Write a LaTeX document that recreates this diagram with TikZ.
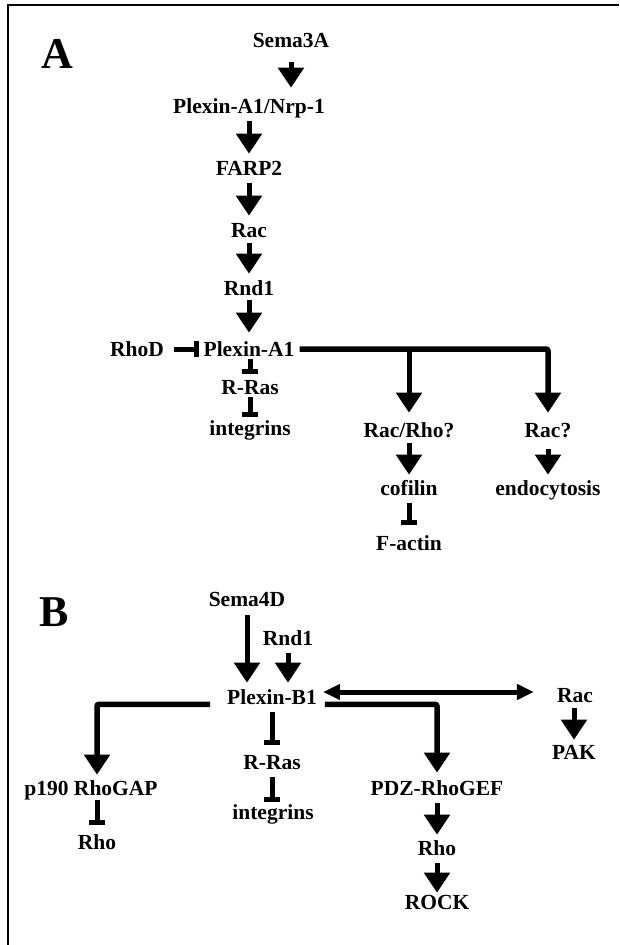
\documentclass[tikz,border=0pt]{standalone}
\usepackage{fontspec}
\setmainfont{Liberation Serif}
\usepackage{tikz}
\usetikzlibrary{arrows.meta}

\tikzset{
  lbl/.style={font=\fontsize{21.5}{24}\selectfont\bfseries, inner sep=0pt, text height=14.2pt, text depth=0pt},
  panel/.style={font=\fontsize{44}{48}\selectfont\bfseries, inner sep=0pt},
  tip/.style={-{Triangle[length=20pt,width=25pt]}, line width=5pt},
  act/.style={tip, shorten <=8pt, shorten >=7pt},
  inh/.style={-{Bar[width=16pt,line width=5pt]}, line width=5pt, shorten <=3pt, shorten >=6pt},
  both/.style={{Triangle[length=17pt,width=15pt]}-{Triangle[length=17pt,width=15pt]}, line width=5pt},
}

\begin{document}
\begin{tikzpicture}[x=1pt,y=-1pt]
        \useasboundingbox (0,0) rectangle (619,945);
        % frame
        \draw[line width=2pt] (619,5) -- (8,5) -- (8,945);

        % panel A
        \node[panel] (pA) at (57,54) {A};
        \node[lbl] (sema3a)  at (291,40)  {Sema3A};
        \node[lbl] (plexnrp) at (249,106) {Plexin-A1/Nrp-1};
        \node[lbl] (farp)    at (249,168) {FARP2};
        \node[lbl] (racA)    at (249,230) {Rac};
        \node[lbl] (rndA)    at (249,288) {Rnd1};
        \node[lbl] (plexa)   at (249,349) {Plexin-A1};
        \node[lbl] (rhod)    at (137,349) {RhoD};
        \node[lbl] (rrasA)   at (250,387) {R-Ras};
        \node[lbl] (integA)  at (250,428) {integrins};
        \node[lbl] (racrho)  at (409,430) {Rac/Rho?};
        \node[lbl] (racq)    at (548,430) {Rac?};
        \node[lbl] (cofilin) at (409,488) {cofilin};
        \node[lbl] (endo)    at (548,488) {endocytosis};
        \node[lbl] (factin)  at (409,543) {F-actin};

        % the chain down to Plexin-A1
        \draw[act, shorten <=15pt, shorten >=11pt] (sema3a.south) -- (sema3a.south |- plexnrp.north);
        \draw[act] (plexnrp) -- (farp);
        \draw[act] (farp) -- (racA);
        \draw[act, shorten <=6pt] (racA) -- (rndA);
        \draw[act, shorten <=5pt, shorten >=9pt] (rndA) -- (plexa);
        \draw[inh, shorten <=10pt, shorten >=4pt] (rhod) -- (plexa);
        \draw[inh] (plexa.south -| rrasA) -- (rrasA.north);
        \draw[inh, shorten >=4pt] (rrasA) -- (integA);

        % branches to the right
        \draw[tip, line width=5.5pt, rounded corners=2pt] ([xshift=5pt]plexa.east) -| ([yshift=10pt]racq.north);
        \draw[tip] (plexa.east -| racrho) -- ([yshift=10pt]racrho.north);
        \draw[act, shorten <=6pt, shorten >=6pt] (racrho) -- (cofilin);
        \draw[act, shorten <=12pt, shorten >=6pt] (racq) -- (endo);
        \draw[inh, shorten <=8pt, shorten >=11pt] (cofilin) -- (factin);

        % panel B
        \node[panel] (pB) at (54,612) {B};
        \node[lbl] (sema4d) at (247,599) {Sema4D};
        \node[lbl] (rndB)   at (288,638) {Rnd1};
        \node[lbl] (plexb)  at (272,697) {Plexin-B1};
        \node[lbl] (racB)   at (575,695) {Rac};
        \node[lbl] (pak)    at (574,752) {PAK};
        \node[lbl] (p190)   at (91,788)  {p190 RhoGAP};
        \node[lbl] (rhoL)   at (97,842)  {Rho};
        \node[lbl] (rrasB)  at (272,762) {R-Ras};
        \node[lbl] (integB) at (273,812) {integrins};
        \node[lbl] (pdz)    at (437,788) {PDZ-RhoGEF};
        \node[lbl] (rhoR)   at (437,848) {Rho};
        \node[lbl] (rock)   at (437,902) {ROCK};

        % inputs to Plexin-B1
        \draw[act, shorten <=9pt] (sema4d.south) -- (sema4d.south |- plexb.north);
        \draw[act] (rndB.south) -- (rndB.south |- plexb.north);

        % Plexin-B1 <-> Rac
        \draw[both, shorten <=6pt, shorten >=23pt] ([yshift=5pt]plexb.east) -- ([yshift=5pt]plexb.east -| racB.west);
        \draw[act, shorten <=6pt, shorten >=5pt] (pak |- racB.south) -- (pak.north);

        % branches from Plexin-B1
        \draw[tip, line width=5.5pt, rounded corners=2pt] ([xshift=-17pt]plexb.south west) -| ([yshift=6pt]rhoL |- p190.north);
        \draw[tip, line width=5.5pt, rounded corners=2pt] ([xshift=8pt]plexb.south east) -| ([yshift=8pt]pdz.north);
        \draw[inh, shorten <=8pt, shorten >=10pt] (plexb) -- (rrasB);
        \draw[inh, shorten <=8pt, shorten >=3pt] (rrasB.south) -- (rrasB.south |- integB.north);
        \draw[inh, shorten <=5pt, shorten >=10pt] (rhoL |- p190.south) -- (rhoL.north);
        \draw[act, shorten >=6pt] (pdz) -- (rhoR);
        \draw[act, shorten >=2pt] (rhoR) -- (rock);
    \end{tikzpicture}
\end{document}
